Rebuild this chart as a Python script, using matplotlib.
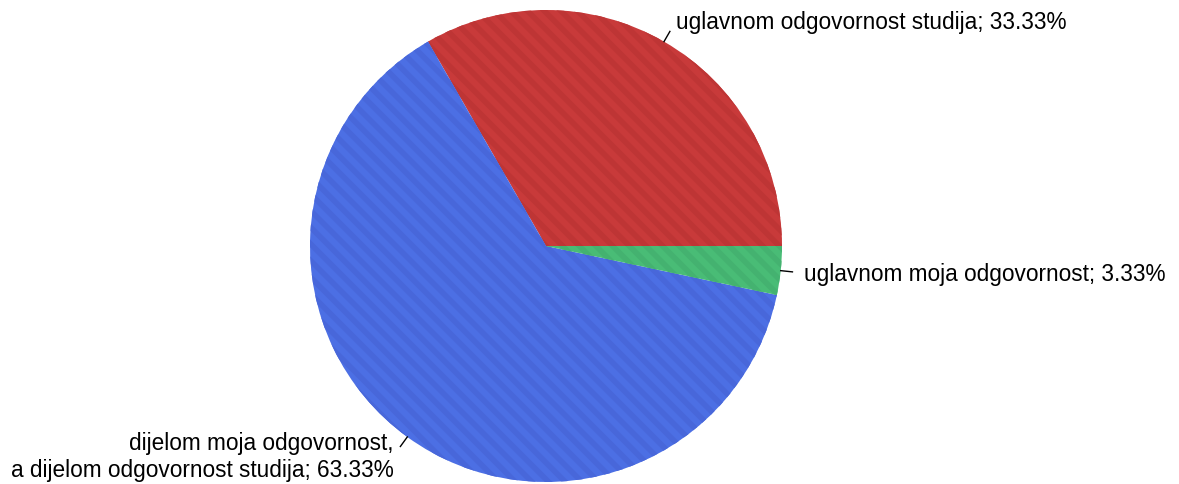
import numpy as np
import matplotlib
matplotlib.use("Agg")
import matplotlib.pyplot as plt

labels = ["uglavnom odgovornost studija",
          "dijelom moja odgovornost,\na dijelom odgovornost studija",
          "uglavnom moja odgovornost"]
values = [33.33, 63.33, 3.33]
colors = ["#C83A3A", "#4C6FE4", "#49BC76"]
hatch_colors = ["#BE3535", "#4867DA", "#44B270"]

plt.rcParams['font.family'] = ['Liberation Sans', 'DejaVu Sans']
plt.rcParams['hatch.linewidth'] = 4.0

W, H = 1179, 485
fig = plt.figure(figsize=(W/100, H/100), dpi=100)
cx, cy, R = 546, 485-247, 236
ax = fig.add_axes([(cx-R)/W, (cy-R)/H, 2*R/W, 2*R/H])

wedges, _ = ax.pie(values, colors=colors, startangle=0, counterclock=True,
                   radius=1.0, wedgeprops=dict(linewidth=0))
ax.set_xlim(-1, 1); ax.set_ylim(-1, 1)
ax.set_aspect('equal'); ax.axis('off')
for w, hc in zip(wedges, hatch_colors):
    w.set_hatch('\\\\')
    w.set_edgecolor(hc)
    w.set_linewidth(0)

for w, lab, v in zip(wedges, labels, values):
    ang = np.deg2rad((w.theta1 + w.theta2) / 2)
    c, s = np.cos(ang), np.sin(ang)
    ax.plot([c*1.0, c*1.05], [s*1.0, s*1.05], color='black', lw=1.0, clip_on=False)
    ha = 'left' if c >= 0 else 'right'
    ax.text(c*1.1, s*1.1, f"{lab}; {v:.2f}%", ha=ha, va='center',
            fontsize=16.3, color='black', multialignment=ha)

fig.savefig("out.png", dpi=100)
